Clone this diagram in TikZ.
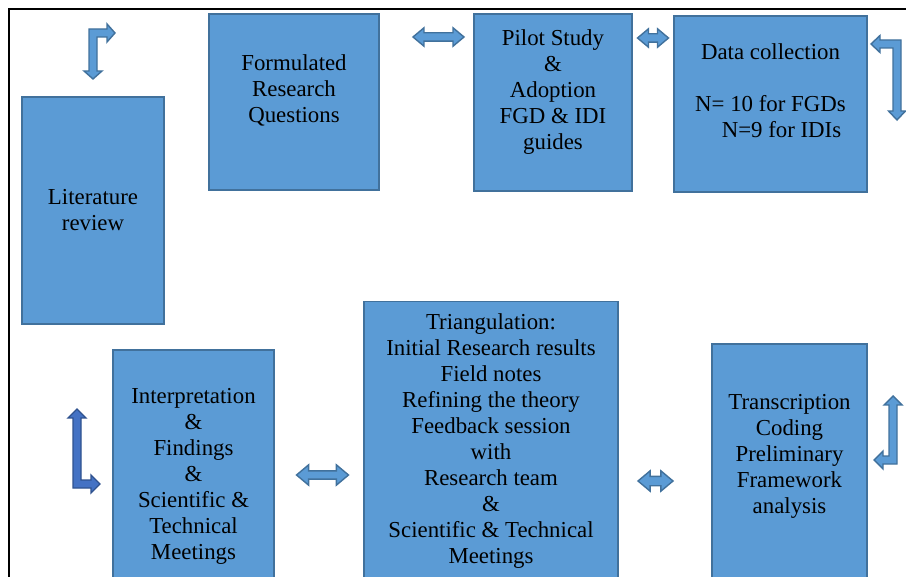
\documentclass[tikz,border=0pt]{standalone}
\usepackage{fontspec}
\setmainfont{Liberation Serif}
\usepackage{tikz}
\usetikzlibrary{shapes.arrows}
\definecolor{boxblue}{HTML}{5B9BD5}
\definecolor{boxline}{HTML}{41719C}
\definecolor{darkblue}{HTML}{4472C4}
\definecolor{darkline}{HTML}{2F528F}
\tikzstyle{stage} = [draw=boxline, fill=boxblue, line width=1pt, align=center, inner sep=0pt,
  font=\fontsize{13pt}{14.8pt}\selectfont]
\tikzstyle{link} = [double arrow, draw=boxline, fill=boxblue, line width=0.8pt, inner sep=0pt,
  text height=0.14cm, text depth=0pt, double arrow head extend=0.1cm, double arrow tip angle=80]
\tikzstyle{bent} = [draw=boxline, fill=boxblue, line width=0.8pt, line join=miter]

\begin{document}
\begin{tikzpicture}[x=0.02cm, y=-0.02cm]
  \useasboundingbox (0,0) rectangle (906,577);
  \clip (0,0) rectangle (906,577);
  \draw [line width=0.9pt] (9,577) -- (9,9) -- (906,9);
  \node (lit) at (93,210.5) [stage, minimum width=2.84cm, minimum height=4.54cm] {Literature\\review};
  \node (rq) at (294,102) [stage, minimum width=3.4cm, minimum height=3.52cm] {Formulated\\Research\\Questions\\ \mbox{}};
  \node (pilot) at (553,102.5) [stage, minimum width=3.16cm, minimum height=3.54cm] {Pilot Study\\\&\\Adoption\\FGD \& IDI\\guides\\ \mbox{}};
  \node (data) at (770.5,104) [stage, minimum width=3.86cm, minimum height=3.52cm] {Data collection\\ \mbox{}\\N= 10 for FGDs\\\hspace*{0.44cm}N=9 for IDIs\\ \mbox{}};
  \node (interp) at (193.5,476) [stage, minimum width=3.22cm, minimum height=5.04cm] {Interpretation\\\&\\Findings\\\&\\Scientific \&\\Technical\\Meetings};
  \node (tri) at (491,441) [stage, minimum width=5.08cm, minimum height=5.58cm] {Triangulation:\\Initial Research results\\Field notes\\Refining the theory\\Feedback session\\with\\Research team\\\&\\Scientific \& Technical\\Meetings};
  \node (trans) at (789.5,467) [stage, minimum width=3.1cm, minimum height=4.92cm] {Transcription\\Coding\\Preliminary\\Framework\\analysis\\ \mbox{}};
  % two-way links between the stages
  \node (ab) at (438.5,37) [link, minimum height=1.02cm] {};
  \node (bc) at (653,38) [link, minimum height=0.62cm] {};
  \node (de) at (322.5,475) [link, minimum height=1.04cm, double arrow head extend=0.12cm] {};
  \node (ef) at (655.5,481) [link, minimum height=0.7cm, double arrow head extend=0.11cm, text height=0.16cm] {};
  % bent arrows at the corners
  \draw [bent] (115,33) -- (107,24) -- (107,29) -- (89,29) -- (89,71) -- (84,71) -- (93,79)
    -- (102,71) -- (97,71) -- (97,37) -- (107,37) -- (107,42) -- cycle;
  \draw [bent] (871,44) -- (880,35.5) -- (880,40) -- (901,40) -- (901,111) -- (905.5,111) -- (897,120)
    -- (888.5,111) -- (893,111) -- (893,48) -- (880,48) -- (880,52.5) -- cycle;
  \draw [bent, draw=darkline, fill=darkblue] (77,409) -- (86,418) -- (81,418) -- (81,480) -- (91,480) -- (91,475)
    -- (100,484) -- (91,493) -- (91,488) -- (73,488) -- (73,418) -- (68,418) -- cycle;
  \draw [bent] (893,396) -- (902,405) -- (897,405) -- (897,464) -- (883,464) -- (883,469) -- (874,460)
    -- (883,451) -- (883,456) -- (889,456) -- (889,405) -- (884,405) -- cycle;
\end{tikzpicture}
\end{document}
